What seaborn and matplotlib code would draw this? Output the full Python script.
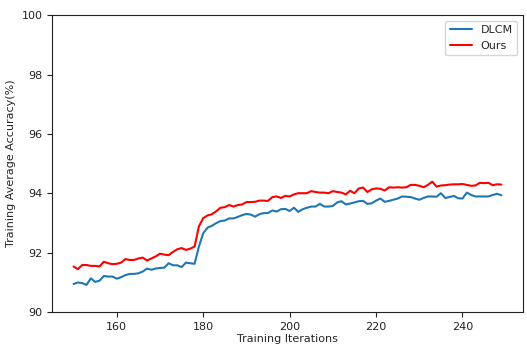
import numpy as np
import pandas as pd
import matplotlib
matplotlib.use("Agg")
import matplotlib.pyplot as plt
import seaborn as sns

iterations = list(range(150, 250))

dlcm = [90.94, 90.99, 90.97, 90.91, 91.13, 91.01, 91.05, 91.21, 91.19, 91.19,
        91.12, 91.17, 91.24, 91.28, 91.28, 91.30, 91.36, 91.46, 91.42, 91.46,
        91.48, 91.49, 91.64, 91.57, 91.57, 91.51, 91.66, 91.64, 91.62, 92.20,
        92.65, 92.84, 92.90, 92.99, 93.06, 93.08, 93.15, 93.15, 93.20, 93.26,
        93.30, 93.28, 93.21, 93.29, 93.33, 93.33, 93.42, 93.38, 93.46, 93.47,
        93.40, 93.51, 93.37, 93.46, 93.51, 93.55, 93.55, 93.64, 93.55, 93.55,
        93.57, 93.69, 93.73, 93.62, 93.65, 93.69, 93.73, 93.74, 93.64, 93.66,
        93.75, 93.82, 93.71, 93.74, 93.78, 93.82, 93.89, 93.88, 93.87, 93.82,
        93.78, 93.84, 93.89, 93.89, 93.88, 94.00, 93.84, 93.87, 93.91, 93.83,
        93.82, 94.02, 93.94, 93.89, 93.89, 93.89, 93.89, 93.94, 93.98, 93.93]

ours = [91.53, 91.44, 91.58, 91.58, 91.55, 91.55, 91.53, 91.69, 91.64, 91.61,
        91.62, 91.66, 91.78, 91.75, 91.75, 91.80, 91.83, 91.73, 91.80, 91.87,
        91.96, 91.93, 91.91, 92.02, 92.11, 92.15, 92.09, 92.13, 92.20, 92.88,
        93.16, 93.25, 93.29, 93.39, 93.51, 93.53, 93.60, 93.55, 93.60, 93.62,
        93.70, 93.70, 93.71, 93.75, 93.75, 93.74, 93.87, 93.89, 93.84, 93.91,
        93.89, 93.96, 94.00, 94.00, 94.00, 94.07, 94.04, 94.02, 94.02, 94.00,
        94.07, 94.04, 94.02, 93.96, 94.08, 94.00, 94.16, 94.19, 94.04, 94.13,
        94.16, 94.15, 94.09, 94.20, 94.19, 94.20, 94.19, 94.20, 94.28, 94.28,
        94.25, 94.20, 94.28, 94.39, 94.22, 94.26, 94.27, 94.29, 94.30, 94.30,
        94.31, 94.28, 94.25, 94.26, 94.35, 94.34, 94.35, 94.27, 94.30, 94.29]

series_names = ["DLCM", "Ours"]
y_ticks = [90, 92, 94, 96, 98, 100]
x_ticks = [160, 180, 200, 220, 240]

df = pd.DataFrame({
    "iter": iterations * 2,
    "acc": dlcm + ours,
    "method": [series_names[0]] * len(dlcm) + [series_names[1]] * len(ours),
})

sns.set_style("ticks")
plt.rcParams["font.family"] = ["DejaVu Sans"]

fig = plt.figure(figsize=(5.27, 3.45), dpi=100)
ax = fig.add_axes([0.099, 0.096, 0.893, 0.86])
sns.lineplot(data=df, x="iter", y="acc", hue="method",
             palette={"DLCM": "#1f77b4", "Ours": "#ff0000"},
             linewidth=1.5, ax=ax)
ax.set_ylim(90, 100)
ax.set_yticks(y_ticks)
ax.set_xticks(x_ticks)
ax.tick_params(labelsize=8, length=3.5, width=0.8, colors="#222222")
ax.set_xlabel("Training Iterations", fontsize=8, labelpad=2)
ax.set_ylabel("Training Average Accuracy(%)", fontsize=8, labelpad=4)
for s in ax.spines.values():
    s.set_color("#222222")
    s.set_linewidth(0.8)
leg = ax.legend(loc="upper right", fontsize=8, frameon=True, title=None)
leg.get_frame().set_edgecolor("#cccccc")
fig.savefig("out.png", dpi=100, facecolor="white")
